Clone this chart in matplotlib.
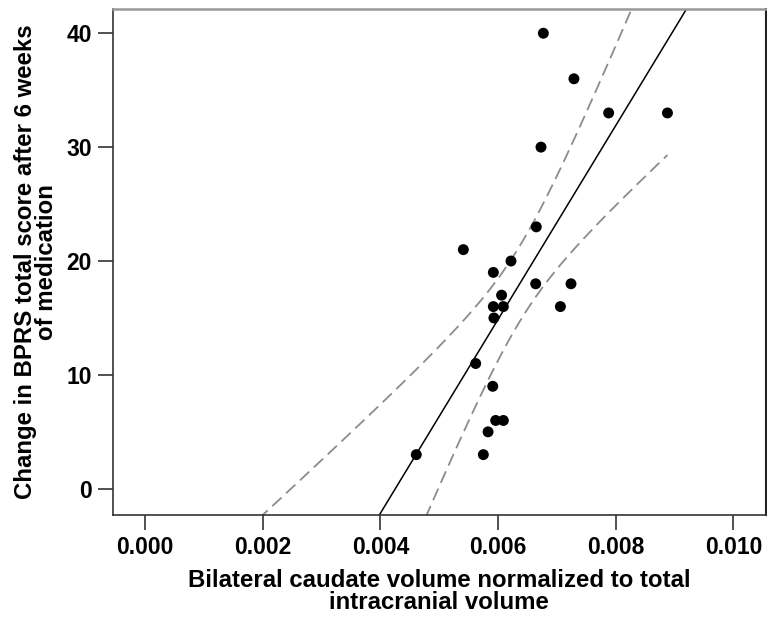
import matplotlib
matplotlib.use('Agg')
import matplotlib.pyplot as plt
import numpy as np

# caudate volume / ICV ratio and BPRS change, one entry per subject
caudate_ratio = [0.00677, 0.00729, 0.00788, 0.00888, 0.00673, 0.00665, 0.00541,
                 0.00622, 0.00592, 0.00664, 0.00724, 0.00606, 0.00592, 0.00609,
                 0.00706, 0.00593, 0.00562, 0.00591, 0.00596, 0.00609, 0.00583,
                 0.00461, 0.00575]
bprs_change = [40, 36, 33, 33, 30, 23, 21, 20, 19, 18, 18, 17, 16, 16, 16, 15,
               11, 9, 6, 6, 5, 3, 3]

x_ticks = [0.000, 0.002, 0.004, 0.006, 0.008, 0.010]
y_ticks = [0, 10, 20, 30, 40]
x_label = 'Bilateral caudate volume normalized to total\nintracranial volume'
y_label = 'Change in BPRS total score after 6 weeks\nof medication'

XLIM = (-0.00055, 0.01055)
YLIM = (-2.3, 42.1)
T_975_DF21 = 2.080  # two-sided 95% t quantile, n - 2 = 21


def fit_line(x, y):
    """OLS fit plus 95% confidence band for the mean."""
    x = np.asarray(x)
    y = np.asarray(y)
    n = len(x)
    slope, intercept = np.polyfit(x, y, 1)
    resid = y - (slope * x + intercept)
    s = np.sqrt(np.sum(resid ** 2) / (n - 2))
    sxx = np.sum((x - x.mean()) ** 2)

    def band(xs):
        fit = slope * xs + intercept
        half = T_975_DF21 * s * np.sqrt(1.0 / n + (xs - x.mean()) ** 2 / sxx)
        return fit, fit - half, fit + half

    return band


plt.rcParams['font.family'] = ['Liberation Sans', 'DejaVu Sans']
plt.rcParams['font.weight'] = 'bold'

fig = plt.figure(figsize=(7.67, 6.21), dpi=100)
ax = fig.add_axes([0.147, 0.1707, 0.8513, 0.8143])

band = fit_line(caudate_ratio, bprs_change)

# fit line across the whole axis, CI band up to the largest x value
xs_line = np.linspace(XLIM[0], XLIM[1], 200)
fit, _, _ = band(xs_line)
ax.plot(xs_line, fit, color='black', lw=1.1, zorder=2)

xs_ci = np.linspace(XLIM[0], max(caudate_ratio), 300)
_, lo, hi = band(xs_ci)
ax.plot(xs_ci, lo, color='#8c8c8c', lw=1.3, dashes=(7, 3.5), zorder=2)
ax.plot(xs_ci, hi, color='#8c8c8c', lw=1.3, dashes=(7, 3.5), zorder=2)

ax.scatter(caudate_ratio, bprs_change, s=62, color='black', edgecolors='none', zorder=3)

ax.set_xlim(*XLIM)
ax.set_ylim(*YLIM)
ax.set_xticks(x_ticks)
ax.set_xticklabels(['%.3f' % v for v in x_ticks])
ax.set_yticks(y_ticks)
ax.tick_params(axis='both', labelsize=16.5, length=11, width=1.2, color='#333333', pad=4)

for side in ['left', 'bottom']:
    ax.spines[side].set_color('#333333')
    ax.spines[side].set_linewidth(1.2)
ax.spines['top'].set_color('#999999')
ax.spines['top'].set_linewidth(1.8)
ax.spines['right'].set_color('#222222')
ax.spines['right'].set_linewidth(1.5)

ax.set_xlabel(x_label, fontsize=17.3, fontweight='bold', labelpad=7, linespacing=0.95)
ax.set_ylabel(y_label, fontsize=17.3, fontweight='bold', labelpad=6, linespacing=0.9)

fig.savefig('out.png', dpi=100)
plt.close(fig)
